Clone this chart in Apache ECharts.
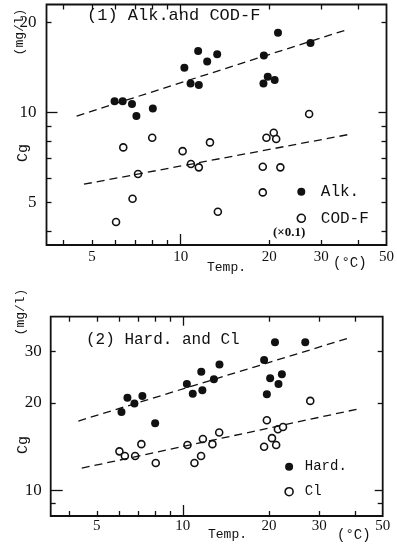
<!DOCTYPE html>
<html>
<head>
<meta charset="utf-8">
<script src="https://cdn.jsdelivr.net/npm/echarts@6/dist/echarts.min.js"></script>
<style>
	html, body { margin: 0; padding: 0; background: #fff; }
	#chart { width: 397px; height: 546px; }
</style>
</head>
<body>
<div id="chart"></div>
<script>
// (1) Alk. and COD-F
const alkTemp = [5.96, 6.35, 6.83, 7.07, 8.04, 10.29, 10.8, 11.46, 11.52, 12.3, 13.3, 19.16, 19.1, 19.75, 20.85, 21.4, 27.6]
const alkVal = [10.9, 10.9, 10.66, 9.72, 10.3, 14.1, 12.5, 16.06, 12.35, 14.8, 15.65, 15.5, 12.5, 13.16, 12.83, 18.5, 17.1]
const codTemp = [6.03, 6.38, 6.86, 7.16, 8.0, 10.15, 10.83, 11.52, 12.57, 13.37, 19.0, 19.0, 19.55, 20.7, 21.1, 21.8, 27.3]
const codVal = [4.29, 7.63, 5.13, 6.21, 8.22, 7.41, 6.71, 6.54, 7.93, 4.64, 6.57, 5.39, 8.22, 8.54, 8.14, 6.54, 9.87]
const alkFit = [[4.43, 9.72], [37.1, 19.0]]
const codFit = [[4.69, 5.74], [37.5, 8.44]]

// (2) Hard. and Cl
const hardTemp = [6.1, 6.4, 6.77, 7.22, 8.0, 10.33, 10.83, 11.6, 11.7, 12.84, 13.43, 19.24, 19.67, 20.2, 21.0, 21.6, 22.2, 26.8]
const hardVal = [18.6, 20.8, 19.9, 21.1, 17.0, 23.2, 21.5, 25.6, 22.1, 24.1, 27.1, 28.1, 21.4, 24.3, 32.3, 23.2, 25.1, 32.3]
const clTemp = [6.0, 6.27, 6.81, 7.16, 8.04, 10.38, 10.98, 11.58, 11.75, 12.69, 13.4, 19.24, 19.67, 20.5, 21.2, 21.5, 22.4, 27.9]
const clVal = [13.6, 13.1, 13.1, 14.4, 12.4, 14.3, 12.4, 13.1, 15.0, 14.4, 15.8, 14.1, 17.4, 15.1, 14.3, 16.2, 16.5, 20.3]
const hardFit = [[4.31, 17.3], [37.9, 33.4]]
const clFit = [[4.43, 11.9], [41.7, 19.1]]

// ticks
const xLabels = [5, 10, 20, 30, 50]
const xTicks = [4, 5, 6, 7, 8, 9, 20, 30, 40]
const longTick = [10]
const y1Labels = [5, 10, 20]
const y1Ticks = [4, 5, 6, 7, 8, 9, 20]
const y2Labels = [10, 20, 30]
const y2Ticks = [9, 20, 30]

const MONO = '"Liberation Mono", "DejaVu Sans Mono", monospace'
const SERIF = '"Liberation Serif", "DejaVu Serif", serif'
const INK = '#111'

const zip = (a, b) => a.map((v, i) => [v, b[i]])

function axis(gridIndex, position, min, max, ticks, len, label) {
	return {
		type: 'log',
		logBase: 10,
		gridIndex,
		position,
		min,
		max,
		axisLine: { show: false },
		splitLine: { show: false },
		axisTick: {
			show: true,
			inside: true,
			length: len,
			customValues: ticks,
			lineStyle: { color: INK, width: 1.3 },
		},
		axisLabel: label
			? {
				show: true,
				customValues: label.values,
				margin: label.margin,
				fontFamily: SERIF,
				fontSize: label.size,
				color: INK,
			}
			: { show: false },
	}
}

const X1 = [3.5, 50]
const Y1 = [3.59, 23.0]
const X2 = [3.45, 50]
const Y2 = [8.14, 39.6]

const xAxes = [
	axis(0, 'bottom', X1[0], X1[1], xTicks, 5, { values: xLabels, margin: 5, size: 15 }),
	axis(0, 'bottom', X1[0], X1[1], longTick, 11),
	axis(0, 'top', X1[0], X1[1], xTicks, 5),
	axis(0, 'top', X1[0], X1[1], longTick, 9),
	axis(1, 'bottom', X2[0], X2[1], xTicks, 5, { values: xLabels, margin: 3, size: 15 }),
	axis(1, 'bottom', X2[0], X2[1], longTick, 11),
	axis(1, 'top', X2[0], X2[1], xTicks, 5),
	axis(1, 'top', X2[0], X2[1], longTick, 9),
]
const yAxes = [
	axis(0, 'left', Y1[0], Y1[1], y1Ticks, 5, { values: y1Labels, margin: 10, size: 17 }),
	axis(0, 'left', Y1[0], Y1[1], longTick, 11),
	axis(0, 'right', Y1[0], Y1[1], y1Ticks, 5),
	axis(0, 'right', Y1[0], Y1[1], longTick, 8),
	axis(1, 'left', Y2[0], Y2[1], y2Ticks, 5, { values: y2Labels, margin: 9, size: 17 }),
	axis(1, 'left', Y2[0], Y2[1], longTick, 12),
	axis(1, 'right', Y2[0], Y2[1], y2Ticks, 5),
	axis(1, 'right', Y2[0], Y2[1], longTick, 8),
]

const filled = { color: INK, opacity: 1 }
const hollow = { color: '#fff', borderColor: INK, borderWidth: 1.6, opacity: 1 }
const dash = { color: INK, width: 1.3, type: [8, 5] }

function fitLine(data, xi, yi) {
	return { type: 'line', xAxisIndex: xi, yAxisIndex: yi, data, showSymbol: false, silent: true, lineStyle: dash }
}
function dots(name, data, xi, yi, style, size) {
	return { type: 'scatter', name, xAxisIndex: xi, yAxisIndex: yi, data, symbol: 'circle', symbolSize: size, itemStyle: style, silent: true }
}

function txt(x, y, text, font) {
	return {
		type: 'text', x, y,
		style: { text, font, fill: INK, align: 'left', verticalAlign: 'middle' },
	}
}
function vtxt(x, y, text, font) {
	return {
		type: 'text', x, y, rotation: Math.PI / 2,
		style: { text, font, fill: INK, align: 'center', verticalAlign: 'middle' },
	}
}

function key(names, left, top, size, gap, pad) {
	return {
		data: names,
		orient: 'vertical',
		left,
		top,
		padding: 0,
		itemWidth: 8,
		itemHeight: 8,
		itemGap: gap,
		selectedMode: false,
		itemStyle: { borderWidth: 1.6 },
		textStyle: { fontFamily: MONO, fontSize: size, lineHeight: size, color: INK, padding: [0, 0, 0, pad] },
	}
}

const chart = echarts.init(document.getElementById('chart'))

chart.setOption({
	animation: false,
	backgroundColor: '#fff',
	grid: [
		{ left: 46.5, top: 4.5, width: 343, height: 240.5, show: true, borderColor: INK, borderWidth: 1.8, backgroundColor: 'transparent' },
		{ left: 50.7, top: 316.7, width: 332, height: 199.3, show: true, borderColor: INK, borderWidth: 1.8, backgroundColor: 'transparent' },
	],
	xAxis: xAxes,
	yAxis: yAxes,
	legend: [
		key(['Alk.', 'COD-F'], 296.5, 183.7, 16, 10.6, 10.5),
		key(['Hard.', 'Cl'], 284.3, 459.7, 14, 11, 6.7),
	],
	series: [
		fitLine(alkFit, 0, 0),
		fitLine(codFit, 0, 0),
		dots('Alk.', zip(alkTemp, alkVal), 0, 0, filled, 8),
		dots('COD-F', zip(codTemp, codVal), 0, 0, hollow, 7),
		fitLine(hardFit, 4, 4),
		fitLine(clFit, 4, 4),
		dots('Hard.', zip(hardTemp, hardVal), 4, 4, filled, 8),
		dots('Cl', zip(clTemp, clVal), 4, 4, hollow, 7),
	],
	graphic: [
		txt(87, 15, '(1) Alk.and COD-F', '17px ' + MONO),
		txt(273, 233, '(×0.1)', 'bold 13px ' + SERIF),
		txt(207, 268, 'Temp.', '13px ' + MONO),
		txt(333, 263, '(°C)', '14px ' + MONO),
		vtxt(19.5, 32, '(mg/l)', '13px ' + MONO),
		vtxt(23, 153, 'Cg', '15px ' + MONO),
		txt(86, 340, '(2) Hard. and Cl', '16px ' + MONO),
		txt(208, 535, 'Temp.', '13px ' + MONO),
		txt(337, 535, '(°C)', '14px ' + MONO),
		vtxt(21, 312, '(mg/l)', '13px ' + MONO),
		vtxt(23, 445, 'Cg', '15px ' + MONO),
	],
})
</script>
</body>
</html>
